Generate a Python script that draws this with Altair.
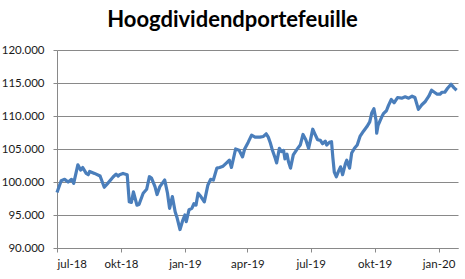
import altair as alt
import pandas as pd

title_text = "Hoogdividendportefeuille"

# days after 2018-07-01
day_offsets = [0, 6, 11, 16, 21, 24, 30, 34, 37, 42, 45, 47, 54, 62, 68, 73, 81, 85, 88, 90,
               95, 101, 104, 107, 110, 115, 118, 124, 129, 133, 136, 141, 144, 148, 155, 159,
               162, 166, 170, 173, 177, 181, 184, 186, 190, 194, 197, 200, 203, 207, 212, 217,
               221, 225, 230, 234, 239, 244, 248, 251, 257, 262, 267, 270, 275, 280, 285, 292,
               297, 301, 304, 307, 310, 314, 316, 320, 323, 326, 328, 331, 333, 336, 340, 345,
               350, 354, 358, 362, 365, 368, 371, 375, 379, 382, 386, 388, 392, 395, 397, 399,
               402, 405, 408, 411, 415, 417, 421, 424, 428, 432, 436, 441, 446, 450, 453, 456,
               459, 460, 462, 467, 470, 474, 477, 481, 485, 490, 496, 501, 506, 511, 515, 520,
               525, 530, 535, 539, 543, 547, 551, 554, 558, 562, 567, 571, 575]

values = [98400, 100200, 100400, 100000, 100400, 99800, 102600, 101800, 102200, 101300, 101100,
          101600, 101300, 100900, 99200, 99800, 100800, 101200, 100900, 101100,
          101300, 101100, 97000, 96900, 98500, 96500, 96600, 98300, 98900, 100800, 100600,
          99300, 98100, 99300, 100300, 98300,
          96000, 97800, 95500, 94500, 92800, 94200, 95000, 94000, 95800, 96000, 96700, 96500,
          98300, 97800, 97000, 99500,
          100400, 100300, 102100, 102200, 102400, 102900, 103300, 102200, 105000, 104800,
          103800, 105000, 106000, 107100, 106800, 106800,
          106900, 107300, 106800, 105900, 104800, 103600, 102900, 105100, 104600, 104800,
          103500, 104200, 103100, 102100, 104100, 104900,
          105600, 107200, 106400, 105100, 106500, 108000, 107300, 106400, 106300, 105800,
          106200, 105600, 106000, 106100, 103600, 101500,
          100800, 101600, 102300, 101100, 102800, 103300, 102100, 104400, 105100, 105600,
          106900, 107700, 108400, 109100, 110500, 111100,
          109400, 107400, 108600, 109800, 110400, 110800, 111600, 112500, 112000, 112800,
          112700, 112900, 112700, 113000, 112800, 111000,
          111700, 112200, 113000, 113900, 113600, 113300, 113300, 113600, 113600, 114200,
          114800, 114300, 113900]

tick_dates = [(2018, 7), (2018, 10), (2019, 1), (2019, 4), (2019, 7), (2019, 10), (2020, 1)]
month_names = ["jan", "feb", "mrt", "apr", "mei", "jun", "jul", "aug", "sep", "okt", "nov", "dec"]
y_ticks = [90000, 95000, 100000, 105000, 110000, 115000, 120000]

start = pd.Timestamp("2018-07-01")
dates = [(start + pd.Timedelta(days=d)).strftime("%Y-%m-%d") for d in day_offsets]
df = pd.DataFrame({"datum": dates, "waarde": values})

grey = "#898989"
font = "Lato"

month_expr = "[" + ",".join("'%s'" % m for m in month_names) + "][utcmonth(datum.value)] + '-' + utcFormat(datum.value, '%y')"

chart = alt.Chart(df).mark_line(color="#4A7EBB", strokeWidth=3.2, strokeJoin="round").encode(
    x=alt.X("datum:T",
            scale=alt.Scale(type="utc",
                            domain=[alt.DateTime(year=2018, month=7, date=1, utc=True),
                                    alt.DateTime(year=2020, month=1, date=29, utc=True)]),
            axis=alt.Axis(title=None,
                          values=[alt.DateTime(year=y, month=m, date=1, utc=True) for y, m in tick_dates],
                          labelExpr=month_expr,
                          grid=False, domainColor=grey, tickColor=grey, tickSize=4,
                          labelPadding=6, labelFont=font, labelFontSize=11.5,
                          labelColor="#1a1a1a")),
    y=alt.Y("waarde:Q",
            scale=alt.Scale(domain=[90000, 120000], nice=False, zero=False),
            axis=alt.Axis(title=None, values=y_ticks,
                          labelExpr="replace(format(datum.value, ',.0f'), ',', '.')",
                          grid=True, gridColor=grey, domainColor=grey, tickColor=grey,
                          tickSize=4, labelPadding=9, labelFont=font, labelFontSize=11.5,
                          labelColor="#1a1a1a")),
).properties(
    width=401, height=198,
    title=alt.TitleParams(title_text, font=font, fontSize=22, fontWeight="bold",
                          color="#000000", anchor="middle", offset=12, dx=-25),
    autosize=alt.AutoSizeParams(type="none"),
    padding={"left": 57, "top": 50, "right": 7, "bottom": 31},
).configure_view(stroke=None)

chart.save("out.html", embed_options={"renderer": "svg", "actions": False})
